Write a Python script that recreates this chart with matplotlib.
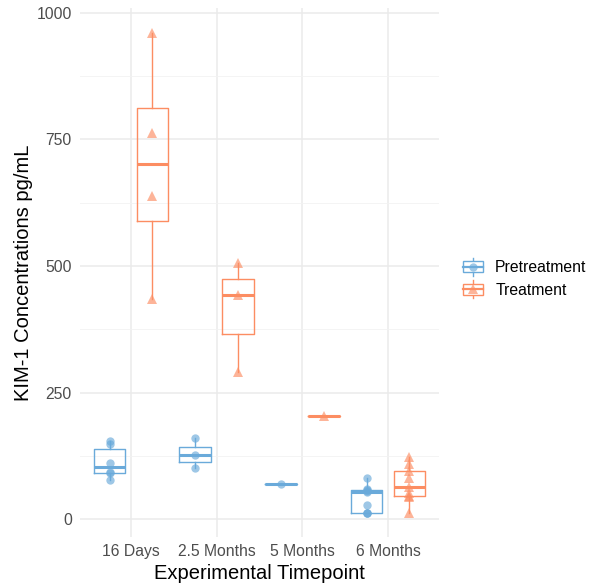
import matplotlib
matplotlib.use("Agg")
import matplotlib.pyplot as plt
import numpy as np
from matplotlib.legend_handler import HandlerBase
from matplotlib.lines import Line2D
from matplotlib.patches import Rectangle

plt.rcParams['font.family'] = ['Liberation Sans', 'DejaVu Sans']

timepoints = ["16 Days", "2.5 Months", "5 Months", "6 Months"]
groups = ["Pretreatment", "Treatment"]
pretreatment = [
    [78, 91, 93, 112, 148, 155],
    [101, 126, 160],
    [70],
    [12, 12, 12, 28, 53, 55, 58, 59, 82],
]
treatment = [
    [434, 639, 763, 960],
    [291, 442, 505],
    [204],
    [12, 45, 47, 52, 64, 82, 95, 110, 123],
]
colors = ["#6AAADA", "#FC8D62"]
markers = ["o", "^"]
msizes = [6.0, 7.0]

fig = plt.figure(figsize=(5.92, 5.85), dpi=100)
ax = fig.add_axes([79.6 / 592, 1 - 536.7 / 585, (439.4 - 79.6) / 592, (536.7 - 8.3) / 585])

offsets = [-0.25, 0.25]
bw = 0.37
for gi, data in enumerate([pretreatment, treatment]):
    pos = np.arange(len(timepoints)) + offsets[gi]
    c = colors[gi]
    ax.boxplot(data, positions=pos, widths=bw, whis=1.5, showfliers=False,
               patch_artist=False, manage_ticks=False,
               boxprops=dict(color=c, linewidth=1.0),
               whiskerprops=dict(color=c, linewidth=1.0),
               capprops=dict(linewidth=0),
               medianprops=dict(color=c, linewidth=2.2),
               zorder=3)
    for p, vals in zip(pos, data):
        ax.plot(np.full(len(vals), p), vals, linestyle="none", marker=markers[gi],
                markersize=msizes[gi], color=c, alpha=0.65, markeredgewidth=0, zorder=4)

ax.set_xlim(-0.6, 3.6)
ax.set_ylim(-34.3, 1008.5)
ax.set_xticks(range(len(timepoints)))
ax.set_xticklabels(timepoints)
ax.set_yticks([0, 250, 500, 750, 1000])
ax.set_yticks([125, 375, 625, 875], minor=True)
ax.grid(True, which="major", color="#EBEBEB", linewidth=1.1, zorder=0)
ax.grid(True, which="minor", axis="y", color="#F2F2F2", linewidth=0.6, zorder=0)
ax.set_axisbelow(True)
for s in ax.spines.values():
    s.set_visible(False)
ax.tick_params(axis="both", which="both", length=0, labelsize=11.3, labelcolor="#4D4D4D")
ax.tick_params(axis="y", pad=5.5)
ax.tick_params(axis="x", pad=5.5)
ax.set_xlabel("Experimental Timepoint", fontsize=14.5, labelpad=3)
ax.set_ylabel("KIM-1 Concentrations pg/mL", fontsize=14.5, labelpad=2.5)


class BoxKeyHandler(HandlerBase):
    def create_artists(self, legend, orig_handle, xdescent, ydescent, width, height, fontsize, trans):
        c = orig_handle.get_color()
        m = orig_handle.get_marker()
        ms = orig_handle.get_markersize()
        x0, y0 = -xdescent, -ydescent
        cx = x0 + width / 2
        cy = y0 + height / 2
        arts = []
        arts.append(Line2D([cx, cx], [y0 - 0.15 * height, y0 + 1.15 * height], color=c, lw=1.0, transform=trans))
        r = Rectangle((x0, y0 + 0.1 * height), width, 0.8 * height, fill=True, facecolor="white",
                      edgecolor=c, lw=1.0, transform=trans)
        arts.append(r)
        arts.append(Line2D([x0, x0 + width], [cy, cy], color=c, lw=1.6, transform=trans))
        arts.append(Line2D([cx], [cy], marker=m, markersize=ms, color=c, alpha=0.65,
                           markeredgewidth=0, linestyle="none", transform=trans))
        return arts


handles = [Line2D([], [], color=colors[i], marker=markers[i], markersize=msizes[i]) for i in range(2)]
leg = fig.legend(handles, groups, handler_map={Line2D: BoxKeyHandler()},
                 loc="center left", bbox_to_anchor=(463 / 592, 1 - 278.7 / 585),
                 frameon=False, fontsize=11.3, handlelength=1.25, handleheight=1.0,
                 handletextpad=0.8, labelspacing=0.45, borderaxespad=0, borderpad=0)

fig.savefig("out.png", dpi=100)
